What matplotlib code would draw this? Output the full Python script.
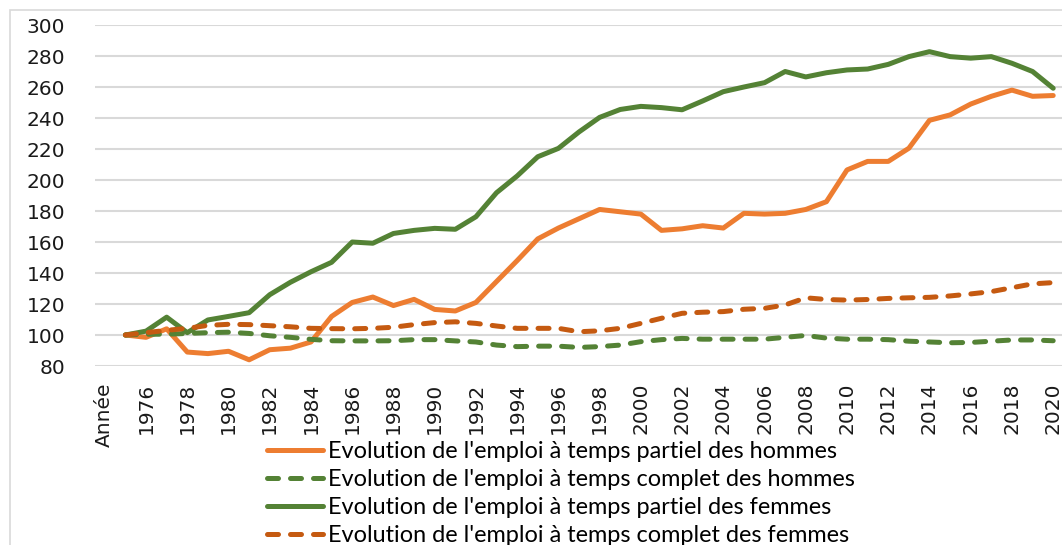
import matplotlib.pyplot as plt
from matplotlib.patches import Rectangle

# categories: first slot is the header "Année", then one slot per year
years = list(range(1975, 2021))
categories = ["Année"] + [str(y) for y in years]

partiel_hommes = [100, 98.5, 104, 89, 88, 89.5, 84, 90.5, 91.5, 95.5, 112, 121, 124.5, 119, 123, 116.5,
                  115.5, 121, 134.5, 148, 162, 169, 175, 181, 179.5, 178, 167.5, 168.5, 170.5, 169, 178.5,
                  178, 178.5, 181, 186, 206.5, 212, 212, 220.5, 238.5, 242, 249, 254, 258, 254, 254.5]
complet_hommes = [100, 100.5, 100.5, 101, 101.5, 101.8, 101, 99.5, 98.5, 97.2, 96.3, 96.2, 96.2, 96.3, 97, 97,
                  96.2, 95.5, 93.5, 92.5, 92.8, 92.8, 92, 92.5, 93.5, 95.7, 97, 97.8, 97.3, 97.3, 97.3,
                  97.3, 98.5, 99.7, 98, 97.3, 97.3, 97, 96, 95.5, 95, 95.2, 96, 96.8, 96.8, 96.3]
partiel_femmes = [100, 102.5, 111.5, 101.5, 109.7, 112, 114.4, 126, 134, 140.8, 146.9, 160, 159.2, 165.5, 167.5,
                  168.8, 168.2, 176.3, 191.8, 202.6, 215, 220.4, 231, 240.4, 245.5, 247.5, 246.7, 245.3,
                  251, 257, 260, 262.8, 270, 266.5, 269.2, 271, 271.6, 274.6, 279.6, 282.8, 279.6, 278.6,
                  279.6, 275.3, 270, 259.2]
complet_femmes = [100, 101.5, 103, 104.3, 106.2, 106.9, 106.7, 106, 105.3, 104.3, 104.1, 104, 104.3, 105, 106.7,
                  108, 108.5, 107.5, 105.8, 104.3, 104.3, 104.3, 102.1, 102.7, 104.3, 107.5, 110.8, 114, 114.7,
                  115.1, 116.6, 117.2, 119.4, 124, 122.9, 122.5, 122.9, 123.6, 124, 124.3, 125.2, 126.5, 128,
                  130.5, 133, 133.8]

labels = ["Evolution de l'emploi à temps partiel des hommes",
          "Evolution de l'emploi à temps complet des hommes",
          "Evolution de l'emploi à temps partiel des femmes",
          "Evolution de l'emploi à temps complet des femmes"]

orange = "#ED7D31"
green = "#548235"
dark_orange = "#C55A11"

W, H = 1062, 545
fig = plt.figure(figsize=(W / 100, H / 100), dpi=100)

# light chart-area frame (cropped on right and bottom)
fig.patches.append(Rectangle((10 / W, -0.1), 1.2, 1 - 10 / H + 0.1, transform=fig.transFigure,
                             fill=False, edgecolor="#d9d9d9", linewidth=1.2))

ax = fig.add_axes([94.5 / W, 1 - 366 / H, 969 / W, 341 / H])

x = list(range(1, len(years) + 1))
dash = (2.2, 2.4)
ax.plot(x, partiel_hommes, color=orange, lw=3.6, solid_capstyle="round", label=labels[0])
ax.plot(x, complet_hommes, color=green, lw=3.6, dashes=dash, dash_capstyle="round", label=labels[1])
ax.plot(x, partiel_femmes, color=green, lw=3.6, solid_capstyle="round", label=labels[2])
ax.plot(x, complet_femmes, color=dark_orange, lw=3.6, dashes=dash, dash_capstyle="round", label=labels[3])

ax.set_xlim(-0.5, len(categories) - 0.5)
ax.set_ylim(80, 300)
ax.set_yticks(range(80, 301, 20))
ax.set_xticks(range(0, len(categories), 2))
ax.set_xticklabels(categories[::2], rotation=90, va="top", ha="center")
ax.tick_params(axis="both", length=0, labelsize=14.5, labelcolor="#1a1a1a")
ax.tick_params(axis="y", pad=21)
ax.tick_params(axis="x", pad=12)
ax.grid(axis="y", color="#d9d9d9", lw=1.5)
ax.set_axisbelow(True)
for s in ax.spines.values():
    s.set_visible(False)

fig.legend(loc="upper left", bbox_to_anchor=(267 / W, 1 - 441 / H), frameon=False,
           borderpad=0, borderaxespad=0, handlelength=2.4, handletextpad=0.2,
           labelspacing=0.3, prop={"family": "Lato", "size": 16.9})

fig.savefig("out.png", dpi=100)
